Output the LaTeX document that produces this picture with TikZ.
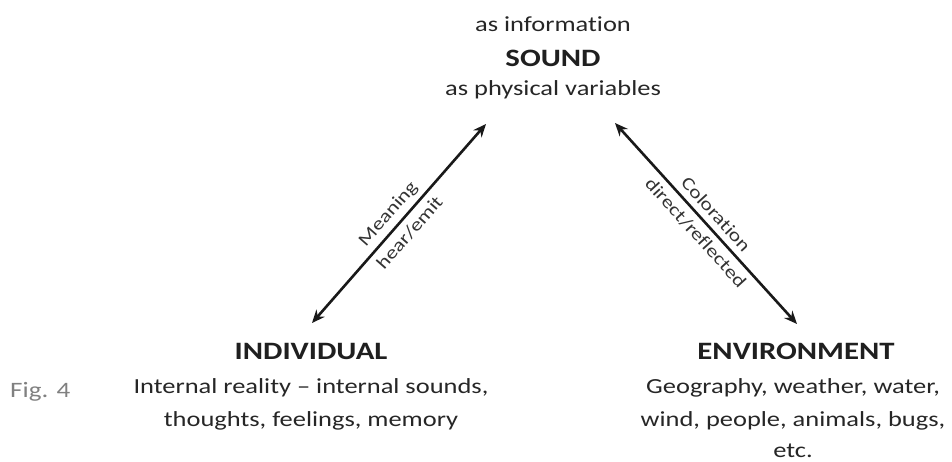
\documentclass[tikz,border=0pt]{standalone}
\usepackage{fontspec}
\setmainfont[FakeStretch=1.23, Ligatures=NoCommon]{Carlito}
\usetikzlibrary{arrows.meta}
\begin{document}
\begin{tikzpicture}[x=1pt,y=-1pt,
  txt/.style={font=\fontsize{21.5}{26}\selectfont, text=black!85, inner sep=0pt, anchor=base},
  ttl/.style={font=\fontsize{25}{30}\selectfont\bfseries, text=black!88, inner sep=0pt, anchor=base},
  lbl/.style={font=\fontsize{18}{21}\selectfont, text=black!80, inner sep=0pt},
  dbl/.style={{Stealth[length=13pt,width=11pt]}-{Stealth[length=13pt,width=11pt]}, line width=2.6pt, black!90}]
\useasboundingbox (0,0) rectangle (952,461);
% top
\node[txt] (info) at (553,31.5) {as information};
\node[ttl] (sound) at (553,66) {SOUND};
\node[txt] (phys) at (553,95) {as physical variables};
% left
\node[ttl] (indiv) at (311,359.5) {INDIVIDUAL};
\node[txt] (ind1) at (311,393.5) {Internal reality – internal sounds,};
\node[txt] (ind2) at (311,426.5) {thoughts, feelings, memory};
% right
\node[ttl] (env) at (796,359.5) {ENVIRONMENT};
\node[txt] (env1) at (793,393) {Geography, weather, water,};
\node[txt] (env2) at (793,426) {wind, people, animals, bugs,};
\node[txt] (env3) at (793,457.5) {etc.};
% fig label
\node[font=\fontsize{22}{26}\selectfont, text=black!50, anchor=base west, inner sep=0pt] (fig) at (10,397) {Fig. 4};
% arrow ends
\coordinate (lt) at (486,124);
\coordinate (lb) at (312,323);
\coordinate (rt) at (615,123);
\coordinate (rb) at (797,324);
\draw[dbl] (lb) -- (lt)
  node[pos=0.5, sloped, above=5pt, lbl] {Meaning}
  node[pos=0.5, sloped, below=6pt, lbl] {hear/emit};
\draw[dbl] (rt) -- (rb)
  node[pos=0.5, sloped, above=6pt, lbl] {Coloration}
  node[pos=0.5, sloped, below=6pt, lbl] {direct/reflected};
\end{tikzpicture}
\end{document}
